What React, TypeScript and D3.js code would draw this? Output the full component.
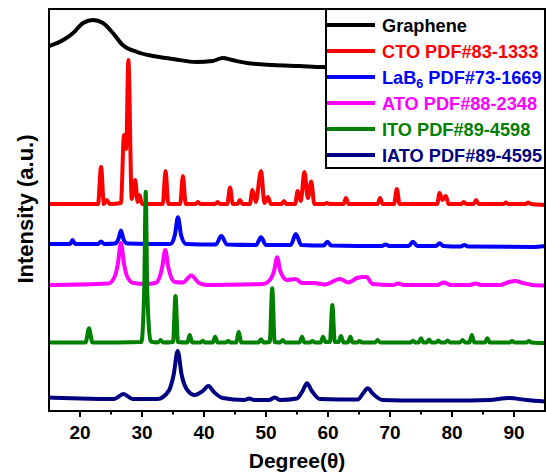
import React from 'react';
import * as d3 from 'd3';

type P = [number, number];

const W = 546;
const H = 473;
const xDomain: [number, number] = [15, 95];
const yDomain: [number, number] = [0, 402];
const majorTicks = [20, 30, 40, 50, 60, 70, 80, 90];
const minorTicks = [25, 35, 45, 55, 65, 75, 85];
const xTitle = 'Degree(θ)';
const yTitle = 'Intensity (a.u.)';

const seriesNames = ['Graphene', 'CTO PDF#83-1333', 'LaB6 PDF#73-1669', 'ATO PDF#88-2348', 'ITO PDF#89-4598', 'IATO PDF#89-4595'];
const seriesColors = ['#000000', '#FF0000', '#0000FF', '#FF00FF', '#008000', '#000080'];

const graphene: P[] = [
  [15, 365], [17.3, 371], [18.9, 378], [20.5, 388], [22.1, 391], [23.7, 388], [25.3, 378], [26.9, 366],
  [29.2, 359], [31.8, 355], [35.0, 352], [38.8, 349], [41.4, 350], [43.0, 353], [44.5, 351], [46.9, 348],
  [51.1, 346], [55.4, 345], [59.1, 344], [71.5, 343], [95, 341],
];

const cto: P[] = [
  [15, 207], [22.9, 207], [23.4, 244], [23.85, 207], [24.3, 211], [24.8, 207], [26.6, 208], [27.1, 276],
  [27.45, 262], [27.8, 351], [28.35, 212], [28.9, 231], [29.3, 209], [29.6, 216], [30.0, 207],
  [33.35, 207], [33.8, 240], [34.25, 207], [36.15, 207], [36.6, 235], [37.05, 207], [38.6, 207], [39.0, 209],
  [39.4, 207], [41.8, 207], [42.2, 209], [42.6, 207], [43.75, 207], [44.2, 223.5], [44.65, 207], [45.4, 207],
  [45.8, 211], [46.2, 207], [47.4, 207], [47.8, 221], [48.35, 209], [49.2, 240], [49.75, 208], [50.3, 214],
  [50.8, 207], [52.5, 207], [52.9, 210], [53.3, 207], [54.7, 207], [55.1, 220], [55.6, 210], [56.2, 239],
  [56.75, 213], [57.3, 229.5], [57.8, 207], [59.4, 207], [59.8, 208], [60.2, 207], [62.5, 207], [62.9, 213],
  [63.3, 207], [68.0, 207], [68.4, 213], [68.8, 207], [70.65, 207], [71.1, 222], [71.55, 207], [77.6, 207],
  [78.0, 218], [78.45, 211], [79.0, 215], [79.45, 207], [81.5, 207], [81.9, 209], [82.3, 207], [83.5, 207],
  [83.9, 211], [84.3, 207], [88.3, 207], [88.7, 208.5], [89.1, 207], [91.9, 207], [92.3, 208.5], [92.7, 207],
  [95, 206],
];

const lab6: P[] = [
  [15, 167], [18.4, 167], [18.8, 171], [19.2, 167], [22.9, 167], [23.4, 169.5], [23.9, 167], [25.7, 167.5],
  [26.2, 172], [26.6, 180.5], [27.0, 172], [27.6, 167.5], [34.6, 167], [35.3, 176], [35.8, 193.7], [36.3, 176],
  [37.1, 167], [41.9, 166.5], [42.8, 175], [43.7, 166.5], [48.4, 166], [49.2, 173.7], [50.0, 166], [54.0, 166],
  [54.8, 177], [55.7, 166], [59.3, 165.5], [59.9, 169.3], [60.5, 165.5], [68.7, 165], [69.3, 166.5],
  [69.9, 165], [73.0, 165], [73.7, 169.3], [74.4, 165], [77.4, 165], [78.0, 167.7], [78.6, 165],
  [81.4, 164.5], [82.0, 166], [82.6, 164.5], [93, 164], [95, 165],
];

const ato: P[] = [
  [15, 126], [24.6, 127.5], [25.6, 134.5], [26.1, 147], [26.6, 168], [27.1, 147], [27.6, 134.5], [28.6, 128],
  [30.5, 127], [32.2, 128], [33.25, 143.5], [33.75, 161], [34.25, 143.5], [35.3, 129], [36.6, 128.5],
  [37.95, 135.5], [39.2, 128], [40.5, 126], [49.5, 127], [50.3, 129], [51.3, 140], [51.8, 153.7], [52.3, 140],
  [53.4, 131], [54.8, 132], [55.8, 128], [57.8, 128], [59.5, 126.5], [61.9, 132], [63.3, 128.5], [64.7, 133],
  [65.5, 134], [66.2, 134], [67.2, 127], [70.5, 126], [71.3, 127.5], [72.2, 126], [77.6, 126], [78.7, 128.5],
  [79.8, 126], [82.8, 126], [83.8, 127.5], [84.8, 126], [87.8, 126], [89.2, 129], [90.2, 130], [91.4, 128],
  [93, 126], [95, 125.5],
];

const ito: P[] = [
  [15, 68.5], [20.9, 68.5], [21.45, 82.7], [22.0, 68.5], [29.9, 69], [30.35, 120], [30.6, 219.3], [30.85, 120],
  [31.4, 69.5], [32.6, 68.5], [33.0, 71], [33.4, 68.5], [35.0, 69], [35.4, 115], [35.8, 69], [37.3, 68.5],
  [37.7, 76], [38.1, 68.5], [39.4, 68.5], [39.8, 70.3], [40.2, 68.5], [41.4, 68.5], [41.8, 74.3], [42.2, 68.5],
  [43.5, 68.5], [43.9, 70], [44.3, 68.5], [45.2, 68.5], [45.6, 79.3], [46.0, 68.5], [48.8, 68.5], [49.2, 71.7],
  [49.6, 68.5], [50.6, 69], [51.0, 122.7], [51.4, 69], [52.3, 68.5], [52.7, 71], [53.1, 68.5], [55.4, 68.5],
  [55.8, 74.3], [56.2, 68.5], [57.1, 68.5], [57.5, 70], [57.9, 68.5], [58.8, 68.5], [59.2, 74.3], [59.6, 69],
  [60.3, 69], [60.7, 106], [61.1, 69], [61.7, 69], [62.1, 75], [62.5, 68.5], [63.2, 68.5], [63.6, 74.3],
  [64.0, 68.5], [64.7, 68.5], [65.1, 70], [65.5, 68.5], [67.6, 68.5], [68.0, 71], [68.4, 68.5], [73.3, 68.5],
  [73.7, 70.3], [74.1, 68.5], [74.6, 68.5], [75.0, 72.7], [75.4, 68.5], [75.9, 68.5], [76.3, 71.5], [76.7, 68.5],
  [77.4, 68.5], [77.8, 70.5], [78.2, 68.5], [78.9, 68.5], [79.3, 70.5], [79.7, 68.5], [81.3, 68.5], [81.7, 71],
  [82.1, 68.5], [82.8, 68.5], [83.2, 76], [83.6, 68.5], [85.3, 68.5], [85.7, 72.7], [86.1, 68.5], [89.3, 68.5],
  [89.7, 70], [90.1, 68.5], [92.0, 68.5], [92.4, 70], [92.8, 68.5], [95, 68],
];

const iato: P[] = [
  [15, 13.5], [20, 12.5], [25.5, 12], [27.0, 17], [28.5, 12], [32.5, 12], [34.3, 20], [35.1, 36], [35.75, 60],
  [36.4, 36], [37.3, 21], [38.5, 16], [39.8, 20], [40.7, 25], [41.6, 19], [43, 13], [46.5, 11], [47.3, 12.5],
  [48.1, 11], [50.5, 11], [51.4, 13.5], [52.3, 11], [55.0, 12.5], [55.9, 20], [56.6, 27.7], [57.4, 20],
  [58.7, 12], [64.8, 11.5], [65.7, 18], [66.4, 22.7], [67.2, 17.5], [68.8, 11], [75, 10.5], [80, 10.5],
  [86, 11], [89.2, 13], [92, 11], [95, 9.5],
];

const allSeries = [graphene, cto, lab6, ato, ito, iato];

const FONT = "'Liberation Sans', Arial, Helvetica, sans-serif";

export default function App() {
  const left = 49, right = 545, top = 9, bottom = 411;
  const x = d3.scaleLinear().domain(xDomain).range([left, right]);
  const y = d3.scaleLinear().domain(yDomain).range([bottom, top]);
  const line = d3.line<P>().x(d => x(d[0])).y(d => y(d[1])).curve(d3.curveMonotoneX);

  const legX = 326, legY = top, legW = right - 326, legH = 159;
  const rowY = (i: number) => 25 + i * 26;

  return (
    <svg width={W} height={H} style={{ position: 'absolute', left: 0, top: 0, background: '#fff' }} fontFamily={FONT}>
      <defs>
        <clipPath id="plotclip">
          <rect x={left} y={top} width={right - left} height={bottom - top} />
        </clipPath>
      </defs>
      <rect x={0} y={0} width={W} height={H} fill="#fff" />
      <g clipPath="url(#plotclip)">
        {allSeries.map((s, i) => (
          <path key={i} d={line(s) || ''} fill="none" stroke={seriesColors[i]} strokeWidth={4} strokeLinejoin="round" strokeLinecap="round" />
        ))}
      </g>
      {/* frame */}
      <rect x={left} y={top} width={right - left} height={bottom - top} fill="none" stroke="#000" strokeWidth={2} />
      {/* x ticks */}
      {majorTicks.map(t => (
        <g key={'M' + t}>
          <line x1={x(t)} x2={x(t)} y1={bottom} y2={bottom + 6} stroke="#000" strokeWidth={2} />
          <text x={x(t)} y={439} textAnchor="middle" fontSize={19} fontWeight="bold" fill="#000">{t}</text>
        </g>
      ))}
      {minorTicks.map(t => (
        <line key={'m' + t} x1={x(t)} x2={x(t)} y1={bottom} y2={bottom + 3.5} stroke="#000" strokeWidth={2} />
      ))}
      <text x={(left + right) / 2} y={468} textAnchor="middle" fontSize={21} fontWeight="bold" fill="#000">{xTitle}</text>
      <text transform={`translate(25, 209) rotate(-90)`} textAnchor="middle" dominantBaseline="central" fontSize={22} fontWeight="bold" fill="#000">{yTitle}</text>
      {/* legend */}
      <rect x={legX} y={legY} width={legW} height={legH} fill="#fff" stroke="#000" strokeWidth={2} />
      {seriesNames.map((name, i) => {
        const cy = rowY(i);
        const isLab = name.startsWith('LaB6');
        return (
          <g key={name}>
            <line x1={legX + 1} x2={375} y1={cy} y2={cy} stroke={seriesColors[i]} strokeWidth={4} />
            <text x={382} y={cy + 6.5} fontSize={18.2} fontWeight="bold" fill={seriesColors[i]}>
              {isLab ? (
                <>
                  LaB<tspan fontSize={12.5} dy={4}>6</tspan><tspan dy={-4}>{name.slice(4)}</tspan>
                </>
              ) : name}
            </text>
          </g>
        );
      })}
    </svg>
  );
}
